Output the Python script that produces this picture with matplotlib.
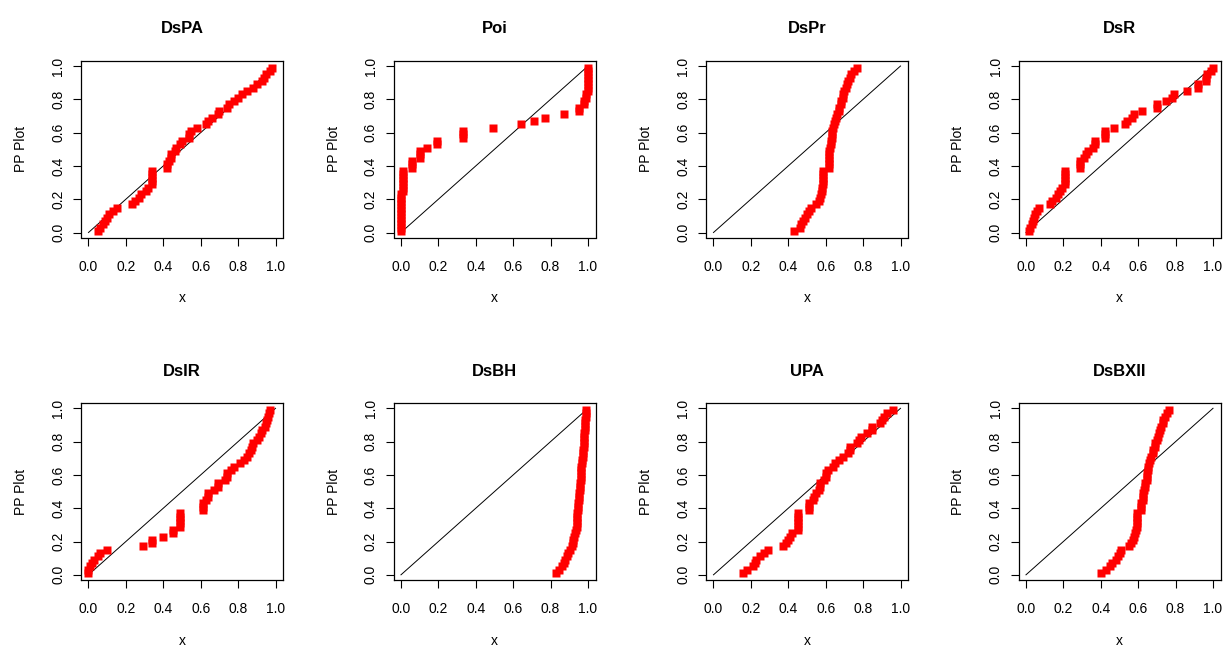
import matplotlib
matplotlib.use("Agg")
import matplotlib.pyplot as plt

plt.rcParams['font.family'] = ['Liberation Sans', 'DejaVu Sans']

# empirical probabilities (shared y of every PP plot)
pp_y = [0.01, 0.03, 0.05, 0.07, 0.09, 0.11, 0.13, 0.15, 0.17, 0.19,
        0.21, 0.23, 0.25, 0.27, 0.29, 0.31, 0.33, 0.35, 0.37, 0.39,
        0.41, 0.43, 0.45, 0.47, 0.49, 0.51, 0.53, 0.55, 0.57, 0.59,
        0.61, 0.63, 0.65, 0.67, 0.69, 0.71, 0.73, 0.75, 0.77, 0.79,
        0.81, 0.83, 0.85, 0.87, 0.89, 0.91, 0.93, 0.95, 0.97, 0.99]

# fitted cdf values, one list per model
dspa_x = [0.05, 0.06, 0.08, 0.09, 0.10, 0.11, 0.13, 0.15, 0.23, 0.25,
          0.27, 0.28, 0.31, 0.32, 0.34, 0.34, 0.34, 0.34, 0.34, 0.42,
          0.42, 0.43, 0.44, 0.44, 0.46, 0.47, 0.49, 0.50, 0.54, 0.54,
          0.55, 0.58, 0.63, 0.64, 0.66, 0.69, 0.70, 0.74, 0.75, 0.78,
          0.80, 0.82, 0.85, 0.88, 0.90, 0.93, 0.94, 0.95, 0.97, 0.98]

poi_x = [0.00, 0.00, 0.00, 0.00, 0.00, 0.00, 0.00, 0.00, 0.00, 0.00,
         0.00, 0.00, 0.01, 0.01, 0.01, 0.01, 0.01, 0.01, 0.01, 0.06,
         0.06, 0.06, 0.10, 0.10, 0.10, 0.14, 0.19, 0.19, 0.33, 0.33,
         0.33, 0.49, 0.64, 0.71, 0.77, 0.87, 0.95, 0.95, 0.98, 0.98,
         0.99, 0.99, 1.00, 1.00, 1.00, 1.00, 1.00, 1.00, 1.00, 1.00]

dspr_x = [0.43, 0.46, 0.47, 0.48, 0.49, 0.50, 0.51, 0.52, 0.55, 0.565,
          0.57, 0.575, 0.58, 0.58, 0.585, 0.585, 0.585, 0.585, 0.585, 0.615,
          0.615, 0.615, 0.62, 0.62, 0.62, 0.625, 0.63, 0.63, 0.635, 0.635,
          0.635, 0.64, 0.645, 0.65, 0.655, 0.66, 0.67, 0.67, 0.68, 0.68,
          0.69, 0.695, 0.70, 0.71, 0.715, 0.72, 0.73, 0.735, 0.75, 0.765]

dsr_x = [0.015, 0.02, 0.03, 0.04, 0.045, 0.05, 0.06, 0.07, 0.13, 0.14,
         0.16, 0.17, 0.18, 0.19, 0.21, 0.21, 0.21, 0.21, 0.21, 0.29,
         0.29, 0.29, 0.31, 0.32, 0.33, 0.36, 0.37, 0.37, 0.42, 0.42,
         0.42, 0.47, 0.53, 0.54, 0.565, 0.58, 0.62, 0.70, 0.70, 0.75,
         0.78, 0.79, 0.86, 0.92, 0.92, 0.96, 0.965, 0.97, 0.99, 1.00]

dsir_x = [0.00, 0.00, 0.01, 0.02, 0.03, 0.05, 0.06, 0.10, 0.29, 0.34,
          0.34, 0.40, 0.45, 0.45, 0.49, 0.49, 0.49, 0.49, 0.49, 0.61,
          0.61, 0.61, 0.63, 0.64, 0.64, 0.67, 0.69, 0.69, 0.73, 0.74,
          0.74, 0.76, 0.78, 0.81, 0.83, 0.85, 0.86, 0.87, 0.875, 0.88,
          0.90, 0.91, 0.92, 0.93, 0.945, 0.95, 0.955, 0.96, 0.965, 0.97]

dsbh_x = [0.83, 0.845, 0.86, 0.87, 0.875, 0.885, 0.895, 0.905, 0.915, 0.92,
          0.92, 0.925, 0.93, 0.935, 0.94, 0.94, 0.94, 0.94, 0.94, 0.945,
          0.945, 0.945, 0.95, 0.95, 0.95, 0.955, 0.955, 0.955, 0.96, 0.96,
          0.96, 0.965, 0.965, 0.97, 0.97, 0.975, 0.975, 0.975, 0.98, 0.98,
          0.98, 0.98, 0.98, 0.985, 0.985, 0.985, 0.985, 0.99, 0.99, 0.99]

upa_x = [0.16, 0.18, 0.21, 0.22, 0.23, 0.25, 0.27, 0.29, 0.37, 0.39,
         0.40, 0.41, 0.42, 0.45, 0.45, 0.45, 0.45, 0.45, 0.45, 0.51,
         0.51, 0.51, 0.53, 0.54, 0.55, 0.565, 0.57, 0.57, 0.59, 0.60,
         0.60, 0.61, 0.64, 0.65, 0.67, 0.69, 0.72, 0.73, 0.73, 0.77,
         0.78, 0.79, 0.82, 0.85, 0.85, 0.89, 0.90, 0.91, 0.93, 0.96]

dsbxii_x = [0.40, 0.43, 0.45, 0.46, 0.48, 0.49, 0.50, 0.51, 0.55, 0.56,
            0.57, 0.58, 0.585, 0.59, 0.595, 0.595, 0.595, 0.595, 0.595, 0.615,
            0.615, 0.615, 0.625, 0.625, 0.625, 0.63, 0.635, 0.635, 0.645, 0.645,
            0.645, 0.65, 0.655, 0.66, 0.665, 0.67, 0.68, 0.68, 0.69, 0.69,
            0.70, 0.705, 0.71, 0.715, 0.72, 0.73, 0.735, 0.745, 0.755, 0.765]

titles = ["DsPA", "Poi", "DsPr", "DsR", "DsIR", "DsBH", "UPA", "DsBXII"]
fitted = [dspa_x, poi_x, dspr_x, dsr_x, dsir_x, dsbh_x, upa_x, dsbxii_x]
ticks = [0.0, 0.2, 0.4, 0.6, 0.8, 1.0]
diag = [0.0, 1.0]

W, H = 1224, 648
fig = plt.figure(figsize=(W / 100, H / 100), dpi=100)

box_w, box_h = 202, 176.5
lefts = [81, 393.5, 706, 1018.5]
tops = [61, 403.3]

for i, (name, xs) in enumerate(zip(titles, fitted)):
    r, c = divmod(i, 4)
    ax = fig.add_axes([lefts[c] / W, 1 - (tops[r] + box_h) / H, box_w / W, box_h / H])

    ax.plot(diag, diag, color='black', lw=0.7, zorder=2)
    ax.plot(xs, pp_y, 's', color='red', ms=6.2, mec='none', zorder=3)

    ax.set_xlim(-0.04, 1.04)
    ax.set_ylim(-0.03, 1.03)
    ax.set_xticks(ticks)
    ax.set_yticks(ticks)
    ax.set_xticklabels([f"{t:.1f}" for t in ticks])
    ax.set_yticklabels([f"{t:.1f}" for t in ticks], rotation=90, va='center')
    ax.tick_params(axis='both', direction='out', length=6, width=0.8,
                   labelsize=10, colors='black')
    ax.tick_params(axis='x', pad=10)
    ax.tick_params(axis='y', pad=5.5)
    for s in ax.spines.values():
        s.set_linewidth(0.9)
        s.set_color('black')

    ax.set_title(name, fontsize=12, fontweight='bold', pad=20)
    ax.set_xlabel("x", fontsize=10)
    ax.xaxis.label.set_va('center')
    ax.xaxis.set_label_coords(0.5, -61 / box_h)
    ax.set_ylabel("PP Plot", fontsize=10)
    ax.yaxis.label.set_va('center')
    ax.yaxis.set_label_coords(-60 / box_w, 0.5)

fig.savefig("out.png", dpi=100)
